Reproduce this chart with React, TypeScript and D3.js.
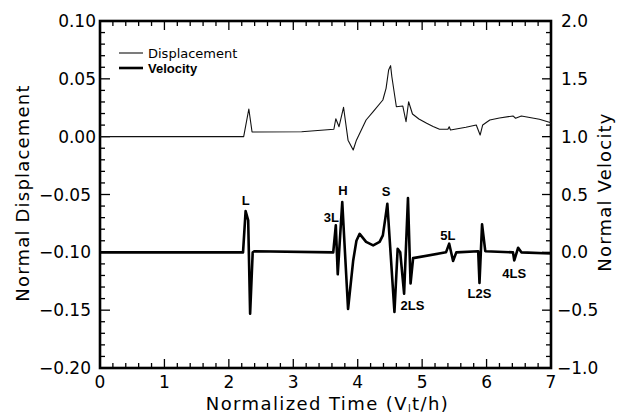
import React from "react";
import * as d3 from "d3";

// Displacement series (time, normal displacement)
const dispT = [0, 2.23, 2.31, 2.36, 3.13, 3.63, 3.66, 3.71, 3.78, 3.85, 3.93, 3.98, 4.13, 4.24, 4.39, 4.44, 4.48, 4.51, 4.53, 4.6, 4.7, 4.75, 4.79, 4.85, 4.95, 5.07, 5.17, 5.27, 5.4, 5.42, 5.44, 5.68, 5.84, 5.9, 5.94, 6.05, 6.2, 6.41, 6.45, 6.54, 6.82, 7.0];
const dispV = [0.0, 0.0, 0.0239, 0.004, 0.0043, 0.0064, 0.0155, 0.0086, 0.0254, -0.003, -0.0115, -0.003, 0.0144, 0.0216, 0.0317, 0.0418, 0.0576, 0.0614, 0.0518, 0.0259, 0.0265, 0.0129, 0.0302, 0.0196, 0.0153, 0.0116, 0.0088, 0.0064, 0.0064, 0.0086, 0.0058, 0.0081, 0.0101, 0.0014, 0.0101, 0.0144, 0.0161, 0.0179, 0.0159, 0.0179, 0.015, 0.0121];

// Velocity series (time, normal velocity)
const velT = [0, 2.22, 2.26, 2.3, 2.33, 2.37, 2.4, 3.62, 3.66, 3.69, 3.76, 3.85, 3.93, 3.98, 4.03, 4.13, 4.24, 4.34, 4.39, 4.43, 4.46, 4.57, 4.62, 4.66, 4.72, 4.78, 4.82, 4.86, 5.37, 5.42, 5.48, 5.53, 5.87, 5.89, 5.93, 5.98, 6.41, 6.43, 6.49, 6.54, 7.0];
const velV = [0, 0, 0.357, 0.277, -0.53, 0, 0.01, 0.0, 0.233, -0.19, 0.435, -0.49, -0.07, 0.1, 0.16, 0.09, 0.06, 0.09, 0.147, 0.3, 0.42, -0.516, 0.03, 0.0, -0.357, 0.47, -0.27, -0.05, 0.0, 0.075, -0.075, 0.0, 0.01, -0.265, 0.242, 0.01, 0.0, -0.07, 0.04, 0.0, -0.01];

// Wave arrival labels (time, velocity position)
const waveNames = ["L", "3L", "H", "S", "2LS", "5L", "L2S", "4LS"];
const waveT = [2.26, 3.59, 3.77, 4.44, 4.85, 5.4, 5.89, 6.43];
const waveV = [0.45, 0.3, 0.535, 0.53, -0.46, 0.147, -0.354, -0.18];

const xTicks = [0, 1, 2, 3, 4, 5, 6, 7];
const xTickLabels = ["0", "1", "2", "3", "4", "5", "6", "7"];
const dTicks = [0.1, 0.05, 0.0, -0.05, -0.1, -0.15, -0.2];
const dTickLabels = ["0.10", "0.05", "0.00", "\u22120.05", "\u22120.10", "\u22120.15", "\u22120.20"];
const vTicks = [2.0, 1.5, 1.0, 0.5, 0.0, -0.5, -1.0];
const vTickLabels = ["2.0", "1.5", "1.0", "0.5", "0.0", "\u22120.5", "\u22121.0"];

export default function App() {
  const W = 636, H = 416;
  const L = 100, R = 551, T = 21, B = 368;
  const x = d3.scaleLinear().domain([0, 7]).range([L, R]);
  const yD = d3.scaleLinear().domain([-0.2, 0.1]).range([B, T]);
  const yV = d3.scaleLinear().domain([-1, 2]).range([B, T]);

  const dispLine = d3.line<number>().x((_, i) => x(dispT[i])).y((d) => yD(d));
  const velLine = d3.line<number>().x((_, i) => x(velT[i])).y((d) => yV(d));

  const xMinor = d3.range(0, 7.0001, 0.2);
  const dMinor = d3.range(-0.2, 0.1001, 0.01);
  const vMinor = d3.range(-1, 2.0001, 0.1);

  const font = "'DejaVu Sans', sans-serif";
  const labFont = "'Liberation Sans', Arial, sans-serif";
  const isMajor = (v: number, step: number) => Math.abs(v / step - Math.round(v / step)) < 1e-6;

  return (
    <svg width={W} height={H} style={{ position: "absolute", left: 0, top: 0, background: "#fff" }}>
      <rect x={0} y={0} width={W} height={H} fill="#fff" />
      {/* ticks */}
      <g stroke="#000" strokeWidth={1.3}>
        {xMinor.map((t, i) => {
          const len = isMajor(t, 1) ? 9 : 5;
          return (
            <g key={"x" + i}>
              <line x1={x(t)} x2={x(t)} y1={B} y2={B - len} />
              <line x1={x(t)} x2={x(t)} y1={T} y2={T + len} />
            </g>
          );
        })}
        {dMinor.map((d, i) => (
          <line key={"d" + i} x1={L} x2={L + (isMajor(d, 0.05) ? 10 : 5)} y1={yD(d)} y2={yD(d)} />
        ))}
        {vMinor.map((v, i) => (
          <line key={"v" + i} x1={R} x2={R - (isMajor(v, 0.5) ? 9 : 5)} y1={yV(v)} y2={yV(v)} />
        ))}
      </g>
      <rect x={L} y={T} width={R - L} height={B - T} fill="none" stroke="#000" strokeWidth={2.6} />

      {/* curves */}
      <path d={dispLine(dispV) || ""} fill="none" stroke="#111" strokeWidth={1.1} strokeLinejoin="round" />
      <path d={velLine(velV) || ""} fill="none" stroke="#000" strokeWidth={2.6} strokeLinejoin="round" />

      {/* wave labels */}
      {waveNames.map((n, i) => (
        <text key={n} x={x(waveT[i])} y={yV(waveV[i])} textAnchor="middle" dominantBaseline="central"
          fontFamily={labFont} fontWeight="bold" fontSize={13}>{n}</text>
      ))}

      {/* tick labels */}
      <g fontFamily={font} fontSize={17} fill="#000">
        {xTicks.map((t, i) => (
          <text key={"xl" + i} x={x(t)} y={388} textAnchor="middle">{xTickLabels[i]}</text>
        ))}
        {dTicks.map((d, i) => (
          <text key={"dl" + i} x={d < 0 ? 91 : 96} y={yD(d)} textAnchor="end" dominantBaseline="central">{dTickLabels[i]}</text>
        ))}
        {vTicks.map((v, i) => (
          <text key={"vl" + i} x={v < 0 ? 557 : 561} y={yV(v)} textAnchor="start" dominantBaseline="central">{vTickLabels[i]}</text>
        ))}
      </g>

      {/* axis titles */}
      <text x={(L + R) / 2 + 2} y={410} textAnchor="middle" fontFamily={font} fontSize={18} letterSpacing={1.4}>
        Normalized Time  (V<tspan dy={2} fontSize={10}>l</tspan><tspan dy={-2}>t/h)</tspan>
      </text>
      <text transform={`translate(29,193) rotate(-90)`} textAnchor="middle" fontFamily={font} fontSize={18} letterSpacing={1.2}>
        Normal Displacement
      </text>
      <text transform={`translate(611,192) rotate(-90)`} textAnchor="middle" fontFamily={font} fontSize={18} letterSpacing={1.2}>
        Normal Velocity
      </text>

      {/* legend */}
      <line x1={119} x2={143} y1={53} y2={53} stroke="#111" strokeWidth={1.1} />
      <text x={148} y={58} fontFamily={font} fontSize={13}>Displacement</text>
      <line x1={119} x2={143} y1={68} y2={68} stroke="#000" strokeWidth={2.6} />
      <text x={148} y={73} fontFamily={labFont} fontWeight="bold" fontSize={13}>Velocity</text>
    </svg>
  );
}
